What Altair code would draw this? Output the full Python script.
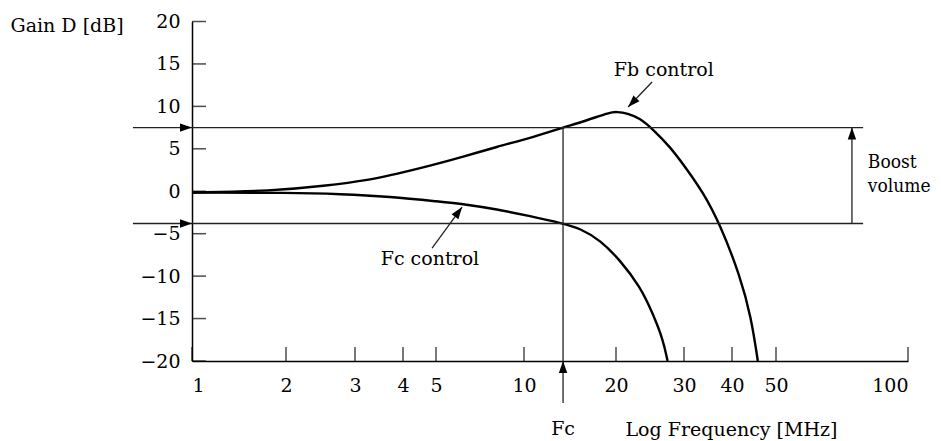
import altair as alt
import pandas as pd

# ---- data ----
FREQ_TICKS = [1, 2, 3, 4, 5, 10, 20, 30, 40, 50, 100]
GAIN_TICKS = [-20, -15, -10, -5, 0, 5, 10, 15, 20]

FB_FREQ = [1, 1.82, 2.49, 3.34, 3.86, 4.80, 6.19, 8.08, 10.46, 13.42,
           16.07, 19.1, 20.1, 21.4, 23.1, 24.9, 27.6, 30.4, 33.6, 37.2, 41.7, 44.1, 45.6]
FB_GAIN = [-0.15, 0.05, 0.6, 1.4, 2.05, 3.0, 4.05, 5.25, 6.25, 7.5,
           8.35, 9.3, 9.37, 9.18, 8.6, 7.3, 5.25, 2.7, -0.1, -3.85, -10.0, -14.9, -20.0]

FC_FREQ = [1, 2.05, 2.75, 3.70, 5.16, 6.19, 8.08, 10.46, 13.42, 15.25, 17.73,
           20.48, 23.1, 24.9, 26.5, 27.2]
FC_GAIN = [-0.15, -0.17, -0.32, -0.64, -1.23, -1.50, -2.13, -2.92, -3.8, -4.37,
           -5.74, -8.10, -11.25, -14.38, -17.53, -20.0]

FC_MARK = 13.42
BOOST_HIGH = 7.5
BOOST_LOW = -3.8

# straight lines: (f1, g1, f2, g2)
SEG_F1 = [0.647, 0.647, FC_MARK, 74.5, 24.8, 4.87]
SEG_G1 = [BOOST_HIGH, BOOST_LOW, -24.95, BOOST_LOW, 12.87, -6.69]
SEG_F2 = [79.0, 79.0, FC_MARK, 74.5, 21.5, 6.14]
SEG_G2 = [BOOST_HIGH, BOOST_LOW, BOOST_HIGH, BOOST_HIGH, 9.93, -1.86]

# arrow heads: tip position and direction (deg clockwise from up)
HEAD_F = [1, 1, 74.5, FC_MARK, 21.5, 6.14]
HEAD_G = [BOOST_HIGH, BOOST_LOW, BOOST_HIGH, -20, 9.93, -1.86]
HEAD_ANGLE = [90, 90, 0, 0, 224, 36]

CENTER_TEXT = ["Fb control", "Fc control"]
CENTER_F = [26.6, 4.80]
CENTER_G = [14.29, -7.98]

BOTTOM_TEXT = ["Fc"]
BOTTOM_F = [FC_MARK]
BOTTOM_G = [-28.7]

LEFT_TEXT = ["Boost", "volume"]
LEFT_F = [81.0, 81.0]
LEFT_G = [3.44, 0.62]

FONT = "DejaVu Serif"
FONT_NARROW = "DejaVu Serif Condensed, Liberation Serif, serif"
FS = 19

# ---- scales ----
xscale = alt.Scale(type="log", domain=FREQ_TICKS,
                   range=[0, 94, 163, 211, 244, 332, 424, 492, 540, 584, 716],
                   nice=False, zero=False)
yscale = alt.Scale(domain=[-20, 20], nice=False, zero=False)

curves = pd.concat([
    pd.DataFrame({"f": FB_FREQ, "g": FB_GAIN, "s": "Fb", "i": range(len(FB_FREQ))}),
    pd.DataFrame({"f": FC_FREQ, "g": FC_GAIN, "s": "Fc", "i": range(len(FC_FREQ))}),
])
segs = pd.DataFrame({"f": SEG_F1, "g": SEG_G1, "f2": SEG_F2, "g2": SEG_G2})
heads = pd.DataFrame({"f": HEAD_F, "g": HEAD_G, "a": HEAD_ANGLE})
ctext = pd.DataFrame({"f": CENTER_F, "g": CENTER_G, "t": CENTER_TEXT})
btext = pd.DataFrame({"f": BOTTOM_F, "g": BOTTOM_G, "t": BOTTOM_TEXT})
ltext = pd.DataFrame({"f": LEFT_F, "g": LEFT_G, "t": LEFT_TEXT})
xt = pd.DataFrame({"f": FREQ_TICKS, "g": [-20] * len(FREQ_TICKS)})
yt = pd.DataFrame({"f": [1] * len(GAIN_TICKS), "g": GAIN_TICKS})

xaxis = alt.Axis(values=FREQ_TICKS, format="d", ticks=False, grid=False,
                 domainColor="black", domainWidth=1.5,
                 labelFont=FONT, labelFontSize=FS, labelColor="black", labelPadding=15,
                 title="Log Frequency [MHz]", titleFont=FONT, titleFontSize=FS,
                 titleFontWeight="normal", titleColor="black", titleAlign="left",
                 titleBaseline="alphabetic", titleAnchor="start", titleX=433, titleY=74)
yaxis = alt.Axis(values=GAIN_TICKS, ticks=False, grid=False,
                 domainColor="black", domainWidth=1.5,
                 labelFont=FONT, labelFontSize=FS, labelColor="black", labelPadding=12,
                 title="Gain D [dB]", titleFont=FONT, titleFontSize=FS,
                 titleFontWeight="normal", titleColor="black", titleAngle=0,
                 titleAlign="left", titleBaseline="alphabetic", titleX=-182, titleY=9.5)

X = alt.X("f:Q", scale=xscale, axis=xaxis)
Y = alt.Y("g:Q", scale=yscale, axis=yaxis)

lines = alt.Chart(curves).mark_line(color="black", strokeWidth=2.4,
                                    interpolate="basis").encode(
    x=X, y=Y, detail="s:N", order="i:Q")

rules = alt.Chart(segs).mark_rule(color="#222222", strokeWidth=1.3).encode(
    x=X, y=Y, x2="f2:Q", y2="g2:Q")

arrow = alt.Chart(heads).mark_point(shape="M0,0L-0.7,2L0.7,2Z", filled=True,
                                    size=144, color="black", opacity=1).encode(
    x=X, y=Y, angle=alt.Angle("a:Q", scale=None))

xticks = alt.Chart(xt).mark_tick(orient="vertical", size=14, thickness=1.5,
                                 yOffset=-7, color="black").encode(x=X, y=Y)
yticks = alt.Chart(yt).mark_tick(orient="horizontal", size=14, thickness=1.5,
                                 xOffset=7, color="black").encode(x=X, y=Y)

ctxt = alt.Chart(ctext).mark_text(
    font=FONT, fontSize=FS, color="black", align="center", baseline="middle").encode(
    x=X, y=Y, text="t:N")
btxt = alt.Chart(btext).mark_text(
    font=FONT, fontSize=FS, color="black", align="center", baseline="alphabetic").encode(
    x=X, y=Y, text="t:N")
ltxt = alt.Chart(ltext).mark_text(
    font=FONT_NARROW, fontSize=FS, color="black", align="left", baseline="middle").encode(
    x=X, y=Y, text="t:N")

chart = alt.layer(lines, rules, arrow, xticks, yticks, ctxt, btxt, ltxt).properties(
    width=716, height=339.5,
    autosize=alt.AutoSizeParams(type="none"),
    padding={"left": 184, "top": 13.5, "right": 25, "bottom": 80},
).configure_view(strokeWidth=0)

chart.save("out.html", embed_options={"renderer": "svg", "actions": False})
